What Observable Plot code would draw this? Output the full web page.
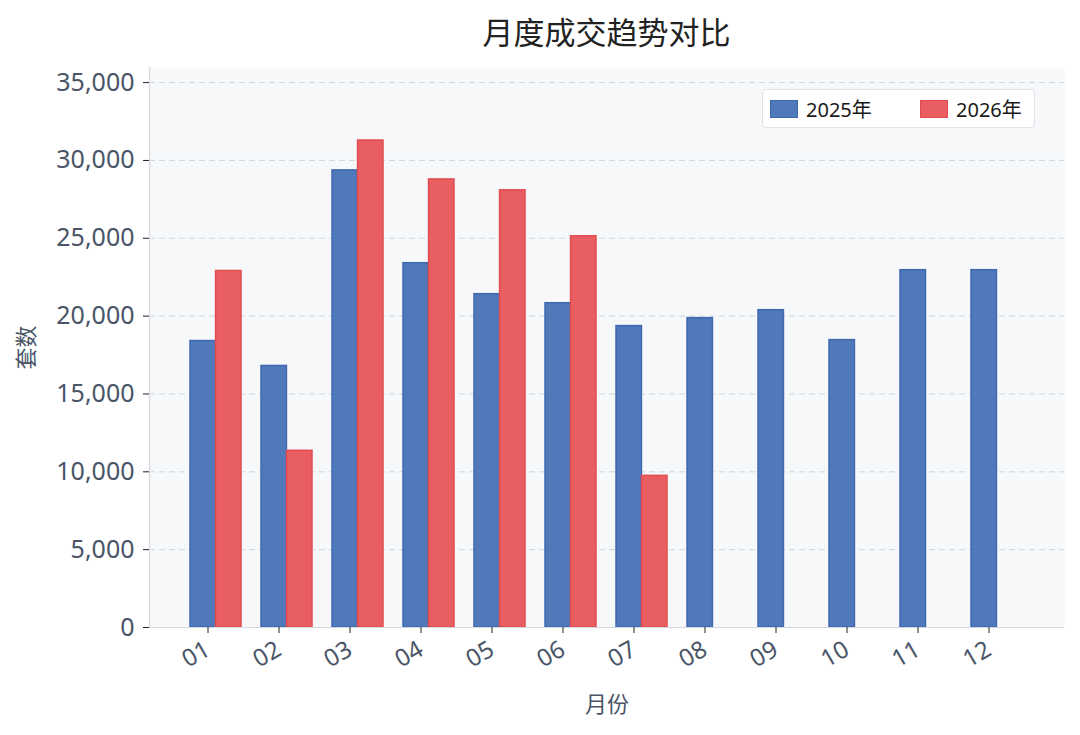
<!DOCTYPE html>
<html><head><meta charset="utf-8">
<script src="https://cdn.jsdelivr.net/npm/d3@7"></script>
<script src="https://cdn.jsdelivr.net/npm/@observablehq/plot@0.6"></script>
<style>
body{margin:0;background:#fff;font-family:"Noto Sans","Noto Sans CJK SC",sans-serif;}
#wrap{position:relative;width:1080px;height:735px;overflow:hidden;}
#title{height:60px;box-sizing:border-box;padding-left:149px;width:1064px;text-align:center;font-family:"Noto Sans CJK SC",sans-serif;font-size:31px;line-height:31px;padding-top:15px;color:#222;font-weight:400;}
#legend{position:absolute;left:762px;top:89px;width:273px;height:39px;box-sizing:border-box;background:rgba(255,255,255,0.92);border:1px solid #dfe3e8;border-radius:4px;font-size:20px;color:#1a1a1a;}
.item{position:absolute;top:0;height:37px;display:flex;align-items:center;}
.sw{width:28px;height:18px;margin-right:8px;box-sizing:border-box;}
</style></head>
<body><div id="wrap"><div id="title">月度成交趋势对比</div><div id="chart"></div><div id="legend"></div></div>
<script>
const months = ["01","02","03","04","05","06","07","08","09","10","11","12"];
const series = ["2025年","2026年"];
const values2025 = [18400,16800,29360,23400,21410,20830,19360,19870,20380,18460,22950,22950];
const values2026 = [22900,11350,31280,28780,28080,25130,9740];
const yTicks = [0,5000,10000,15000,20000,25000,30000,35000];
const colors = ["#5079bc","#e95f61"];
const edges = ["#4068ae","#e24c50"];

const rows2025 = values2025.map((v,i)=>({month:months[i], year:series[0], value:v}));
const rows2026 = values2026.map((v,i)=>({month:months[i], year:series[1], value:v}));

const W = 1080, mL = 149, mR = 16;
const pIn = 0.28, pOut = 0.5835;
const step = (W - mL - mR) / (months.length - pIn + 2*pOut);
const half = step*(1-pIn)/2;
const ff = '"Noto Sans","Noto Sans CJK SC",sans-serif';

const chart = Plot.plot({
  width: W, height: 675,
  marginLeft: mL, marginRight: mR, marginTop: 7, marginBottom: 108,
  style:{fontFamily:ff, background:"transparent", overflow:"visible"},
  x:{domain:months, paddingInner:pIn, paddingOuter:pOut, align:0.5},
  y:{domain:[0,35970]},
  marks:[
    Plot.frame({fill:"#f6f8fa", stroke:null}),
    Plot.gridY(yTicks, {stroke:"#cfd5dc", strokeOpacity:1, strokeDasharray:"6,4", strokeWidth:1}),
    Plot.barY(rows2025, {x:"month", y:"value", fill:colors[0], stroke:edges[0], strokeWidth:1.5, insetRight:half}),
    Plot.barY(rows2026, {x:"month", y:"value", fill:colors[1], stroke:edges[1], strokeWidth:1.5, insetLeft:half}),
    Plot.ruleY([0], {stroke:"#d3d9e0", strokeWidth:1.2}),
    Plot.frame({anchor:"left", stroke:"#d3d9e0", strokeWidth:1.2}),
    Plot.axisY({ticks:yTicks, tickFormat:d3.format(","), tickSize:6, tickPadding:9, fontSize:25, stroke:"#222", fill:"#4a5568",
      label:"套数", labelAnchor:"center", labelArrow:"none", labelOffset:131}),
    Plot.axisX({tickRotate:-30, tickSize:6, tickPadding:14, dx:-8, fontSize:24, stroke:"#222", fill:"#4a5568",
      label:"月份", labelAnchor:"center", labelArrow:"none", labelOffset:84})
  ]
});
chart.querySelectorAll('[aria-label="y-axis label"] text, [aria-label="x-axis label"] text').forEach(t=>{t.setAttribute("font-size","22");t.setAttribute("fill","#4a5568");t.setAttribute("font-family",'"Noto Sans CJK SC",sans-serif');});
document.getElementById("chart").appendChild(chart);

const lg = document.getElementById("legend");
const pos = [7,157];
series.forEach((s,i)=>{
  const d = document.createElement("div");
  d.className="item"; d.style.left=pos[i]+"px";
  d.innerHTML = `<span class="sw" style="background:${colors[i]};border:1.5px solid ${edges[i]}"></span><span>${s}</span>`;
  lg.appendChild(d);
});
</script></body></html>
